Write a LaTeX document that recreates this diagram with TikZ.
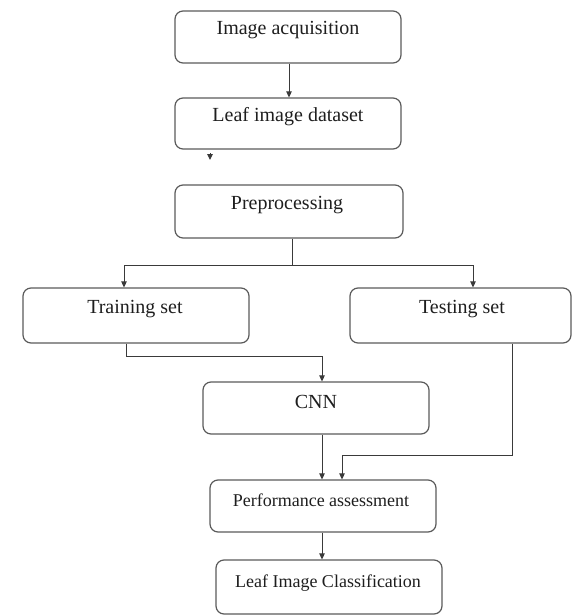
\documentclass[tikz,border=0pt]{standalone}
\usepackage{fontspec}
\setmainfont{Liberation Serif}
\usetikzlibrary{arrows.meta,calc}
\definecolor{boxline}{HTML}{5A5A5A}
\definecolor{txt}{HTML}{1E1E1E}
\definecolor{conn}{HTML}{3A3A3A}
\begin{document}
\begin{tikzpicture}[x=1pt,y=-1pt,
  box/.style={draw=boxline,line width=1.2pt,rounded corners=8pt,inner sep=0pt,minimum width=226pt},
  lbl/.style={text=txt,inner sep=0pt,font=\fontsize{20}{22}\selectfont},
  slbl/.style={text=txt,inner sep=0pt,font=\fontsize{18}{20}\selectfont},
  arr/.style={draw=conn,line width=1pt,-{Triangle[length=6pt,width=5.5pt]}},
  ln/.style={draw=conn,line width=1pt}]
\useasboundingbox (0,0) rectangle (573,616);
% boxes
\node[box,minimum height=52pt] (b1) at (288,37) {};
\node[box,minimum height=51pt] (b2) at (288,123.5) {};
\node[box,minimum width=228pt,minimum height=53pt] (b3) at (289,211.5) {};
\node[box,minimum height=55pt] (tr) at (136,315.5) {};
\node[box,minimum width=221pt,minimum height=55pt] (te) at (460.5,315.5) {};
\node[box,minimum height=52pt] (cnn) at (316,408) {};
\node[box,minimum height=52pt] (pa) at (323,506) {};
\node[box,minimum height=54pt] (lc) at (329,587) {};
% labels
\node[lbl] (t1) at (288,30) {Image acquisition};
\node[lbl] (t2) at (288,117) {Leaf image dataset};
\node[lbl] (t3) at (287,205) {Preprocessing};
\node[lbl] (t4) at (135,309) {Training set};
\node[lbl] (t5) at (462,309) {Testing set};
\node[lbl] (t6) at (316,402) {CNN};
\node[slbl] (t7) at (321,500) {Performance assessment};
\node[slbl] (t8) at (328,583) {Leaf Image Classification};
% connectors
\draw[arr] (b1.south -| 289,0) -- (b2.north -| 289,0);
\coordinate (s1) at (210,153);
\coordinate (s2) at (210,160);
\draw[arr] (s1) -- (s2);
\coordinate (split) at (292,265);
\draw[ln] (b3.south -| split) -- (split);
\draw[arr] (split) -| (tr.north -| 124,0);
\draw[arr] (split) -| (te.north -| 473,0);
\coordinate (c1) at (126,356);
\draw[arr] (tr.south -| c1) -- (c1) -| (cnn.north -| 322,0);
\draw[arr] (cnn.south -| 322,0) -- (pa.north -| 322,0);
\coordinate (c2) at (512,455);
\draw[arr] (te.south -| c2) -- (c2) -| (pa.north -| 342,0);
\draw[arr] (pa.south -| 322,0) -- (lc.north -| 322,0);
\end{tikzpicture}
\end{document}
